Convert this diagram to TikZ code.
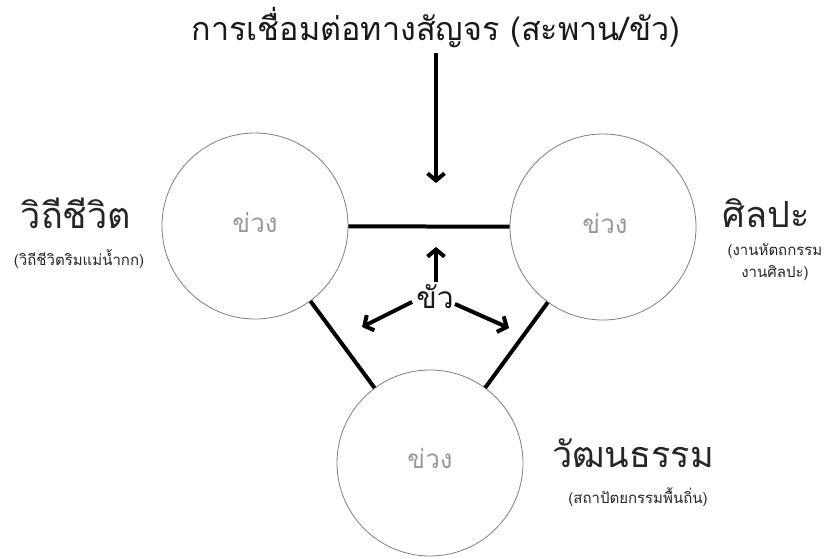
\documentclass[tikz,border=0pt]{standalone}
\usepackage{fontspec}
\newfontfamily\thaifont[Script=Thai]{Loma}
\usetikzlibrary{arrows.meta}
\begin{document}
\begin{tikzpicture}[x=1pt,y=-1pt,
  hub/.style={circle, draw=black!50, line width=0.8pt, minimum size=186pt, inner sep=0pt},
  hubtxt/.style={anchor=base, inner sep=0pt, text=black!40, font=\thaifont\fontsize{26}{30}\selectfont},
  link/.style={line width=4pt, black},
  flow/.style={line width=4pt, black, -{Straight Barb[length=7pt,width=17pt]}},
  bigtxt/.style={anchor=base, inner sep=0pt, text=black!85, font=\thaifont\fontsize{36}{40}\selectfont},
  titletxt/.style={anchor=base, inner sep=0pt, text=black!90, font=\thaifont\fontsize{32.3}{38}\selectfont},
  subtxt/.style={anchor=base, inner sep=0pt, text=black!85, align=center, font=\thaifont\fontsize{15}{22}\selectfont},
  bridgetxt/.style={anchor=base, inner sep=0pt, text=black!90, font=\thaifont\fontsize{30}{34}\selectfont}
]
\useasboundingbox (0,0) rectangle (827,558);
\fill[white] (0,0) rectangle (827,558);
% circles
\node[hub] (L) at (255,226) {};
\node[hub] (R) at (603,227) {};
\node[hub] (B) at (430,463) {};
\node[hubtxt] (Lt) at (255,232) {ข่วง};
\node[hubtxt] (Rt) at (605,233) {ข่วง};
\node[hubtxt] (Bt) at (430,468) {ข่วง};
% links
\draw[link] (L) -- (R);
\draw[link] (L) -- (B);
\draw[link] (R) -- (B);
% title and arrow
\node[titletxt] (title) at (436,40) {การเชื่อมต่อทางสัญจร (สะพาน/ขัว)};
\coordinate (tA) at (436,53);
\coordinate (tB) at (436,183);
\draw[flow] (tA) -- (tB);
% bridge
\node[bridgetxt] (bridge) at (435,308) {ขัว};
\coordinate (up0) at (436,282);
\coordinate (up1) at (436,247);
\coordinate (lf0) at (412,302);
\coordinate (lf1) at (362,327);
\coordinate (rt0) at (455,304);
\coordinate (rt1) at (509,328);
\draw[flow] (up0) -- (up1);
\draw[flow] (lf0) -- (lf1);
\draw[flow] (rt0) -- (rt1);
% labels
\node[bigtxt] (way) at (76,228) {วิถีชีวิต};
\node[subtxt] (waysub) at (79,265) {(วิถีชีวิตริมแม่น้ำกก)};
\node[bigtxt] (art) at (766,227) {ศิลปะ};
\node[subtxt] (artsub) at (775,277) {(งานหัตถกรรม\\งานศิลปะ)};
\node[bigtxt] (cul) at (633,467) {วัฒนธรรม};
\node[subtxt] (culsub) at (638,503) {(สถาปัตยกรรมพื้นถิ่น)};
\end{tikzpicture}
\end{document}
